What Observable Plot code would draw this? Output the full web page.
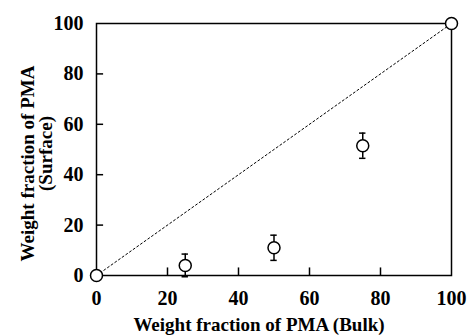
<!DOCTYPE html>
<html><head><meta charset="utf-8">
<script src="https://cdn.jsdelivr.net/npm/d3@7"></script>
<script src="https://cdn.jsdelivr.net/npm/@observablehq/plot@0.6"></script>
<style>body{margin:0;background:#fff}</style>
</head><body><div id="chart"></div>
<script>
const bulk = [0, 25, 50, 75, 100];
const surface = [0, 4, 11, 51.5, 100];
const err = [0, 4.5, 5, 5, 0];
const xTicks = [0, 20, 40, 60, 80, 100];
const yTicks = [0, 20, 40, 60, 80, 100];
const innerTicks = [20, 40, 60, 80];
const diagonal = [0, 100];

const data = bulk.map((b, i) => ({b, s: surface[i], e: err[i]}));
const errData = data.filter(d => d.e > 0);

const font = "'Liberation Serif', 'Times New Roman', serif";
const chart = Plot.plot({
  width: 467, height: 336,
  marginLeft: 96, marginRight: 16, marginTop: 23, marginBottom: 61,
  style: {fontFamily: font, fontWeight: "bold", fontSize: "20px", color: "#000", background: "#fff"},
  x: {type: "linear", domain: [0, 100]},
  y: {type: "linear", domain: [0, 100]},
  marks: [
    Plot.frame({stroke: "#000", strokeWidth: 1.5}),
    Plot.axisX({ticks: xTicks, tickSize: 0, tickPadding: 15, label: null, fontSize: 20, fontWeight: "bold"}),
    Plot.axisY({ticks: yTicks, tickSize: 0, tickPadding: 13, label: null, fontSize: 20, fontWeight: "bold"}),
    Plot.ruleX(innerTicks, {x: d => d, y1: 0, y2: 3, stroke: "#000", strokeWidth: 1.5}),
    Plot.ruleY(innerTicks, {y: d => d, x1: 0, x2: 2, stroke: "#000", strokeWidth: 1.5}),
    Plot.line(diagonal, {x: d => d, y: d => d, stroke: "#000", strokeWidth: 1, strokeDasharray: "2,2.5"}),
    Plot.ruleX(errData, {x: "b", y1: d => d.s - d.e, y2: d => d.s + d.e, stroke: "#000", strokeWidth: 1.5}),
    Plot.ruleY(errData, {y: d => d.s + d.e, x1: d => d.b - 0.9, x2: d => d.b + 0.9, stroke: "#000", strokeWidth: 1.5}),
    Plot.ruleY(errData, {y: d => d.s - d.e, x1: d => d.b - 0.9, x2: d => d.b + 0.9, stroke: "#000", strokeWidth: 1.5}),
    Plot.dot(data, {x: "b", y: "s", r: 6, stroke: "#000", strokeWidth: 1.5, fill: "#fff"}),
    Plot.text(["Weight fraction of PMA (Bulk)"], {frameAnchor: "bottom", dy: 55, dx: -15, fontSize: 19, fontWeight: "bold"}),
    Plot.text(["Weight fraction of PMA"], {frameAnchor: "left", textAnchor: "middle", rotate: -90, dx: -69, dy: 14, fontSize: 19, fontWeight: "bold"}),
    Plot.text(["(Surface)"], {frameAnchor: "left", textAnchor: "middle", rotate: -90, dx: -51, dy: 4, fontSize: 19, fontWeight: "bold"})
  ]
});
document.getElementById("chart").appendChild(chart);
</script>
</body></html>
